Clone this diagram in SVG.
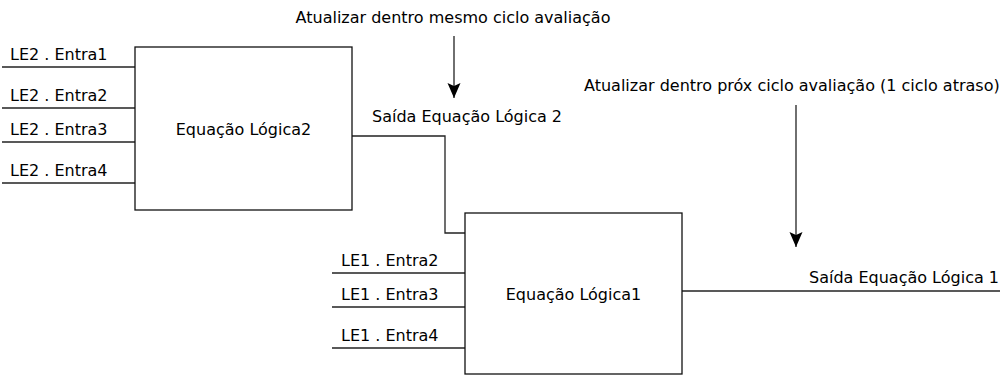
<svg xmlns="http://www.w3.org/2000/svg" width="1008" height="377" viewBox="0 0 1008 377">
<style>
text{font-family:"DejaVu Sans",sans-serif;font-size:16px;fill:#000}
.mid{text-anchor:middle}
.box{fill:#fff;stroke:#111;stroke-width:1.3}
.ln{fill:none;stroke:#222;stroke-width:1.3}
</style>
<defs>
<marker id="ad" markerUnits="userSpaceOnUse" markerWidth="14" markerHeight="16" refX="7" refY="15" viewBox="0 0 14 16" orient="0">
<path d="M0.5,0 L7,3 L13.5,0 L7,15 Z" fill="#000"/>
</marker>
</defs>
<rect width="1008" height="377" fill="#fff"/>
<g id="connectors">
<line class="ln" x1="2" y1="67" x2="135" y2="67"/>
<line class="ln" x1="2" y1="108" x2="135" y2="108"/>
<line class="ln" x1="2" y1="142" x2="135" y2="142"/>
<line class="ln" x1="2" y1="183" x2="135" y2="183"/>
<polyline class="ln" points="352,136 445,136 445,233 465,233"/>
<line class="ln" x1="332" y1="273" x2="465" y2="273"/>
<line class="ln" x1="332" y1="307" x2="465" y2="307"/>
<line class="ln" x1="332" y1="348" x2="465" y2="348"/>
<line class="ln" x1="682" y1="291" x2="1000" y2="291"/>
<line class="ln" x1="454" y1="36" x2="454" y2="98" marker-end="url(#ad)"/>
<line class="ln" x1="796" y1="105" x2="796" y2="247" marker-end="url(#ad)"/>
</g>
<g id="node-le2">
<rect class="box" x="135" y="47" width="217" height="163"/>
<text class="mid" x="243.5" y="135">Equação Lógica2</text>
</g>
<g id="node-le1">
<rect class="box" x="465" y="213" width="217" height="161"/>
<text class="mid" x="573.5" y="300">Equação Lógica1</text>
</g>
<g id="labels">
<text x="10" y="60">LE2 . Entra1</text>
<text x="10" y="101">LE2 . Entra2</text>
<text x="10" y="135">LE2 . Entra3</text>
<text x="10" y="176">LE2 . Entra4</text>
<text x="341" y="266">LE1 . Entra2</text>
<text x="341" y="300">LE1 . Entra3</text>
<text x="341" y="341">LE1 . Entra4</text>
<text x="372" y="122">Saída Equação Lógica 2</text>
<text x="999" y="283" text-anchor="end">Saída Equação Lógica 1</text>
<text class="mid" x="453" y="23">Atualizar dentro mesmo ciclo avaliação</text>
<text x="584" y="91">Atualizar dentro próx ciclo avaliação (1 ciclo atraso)</text>
</g>
</svg>
